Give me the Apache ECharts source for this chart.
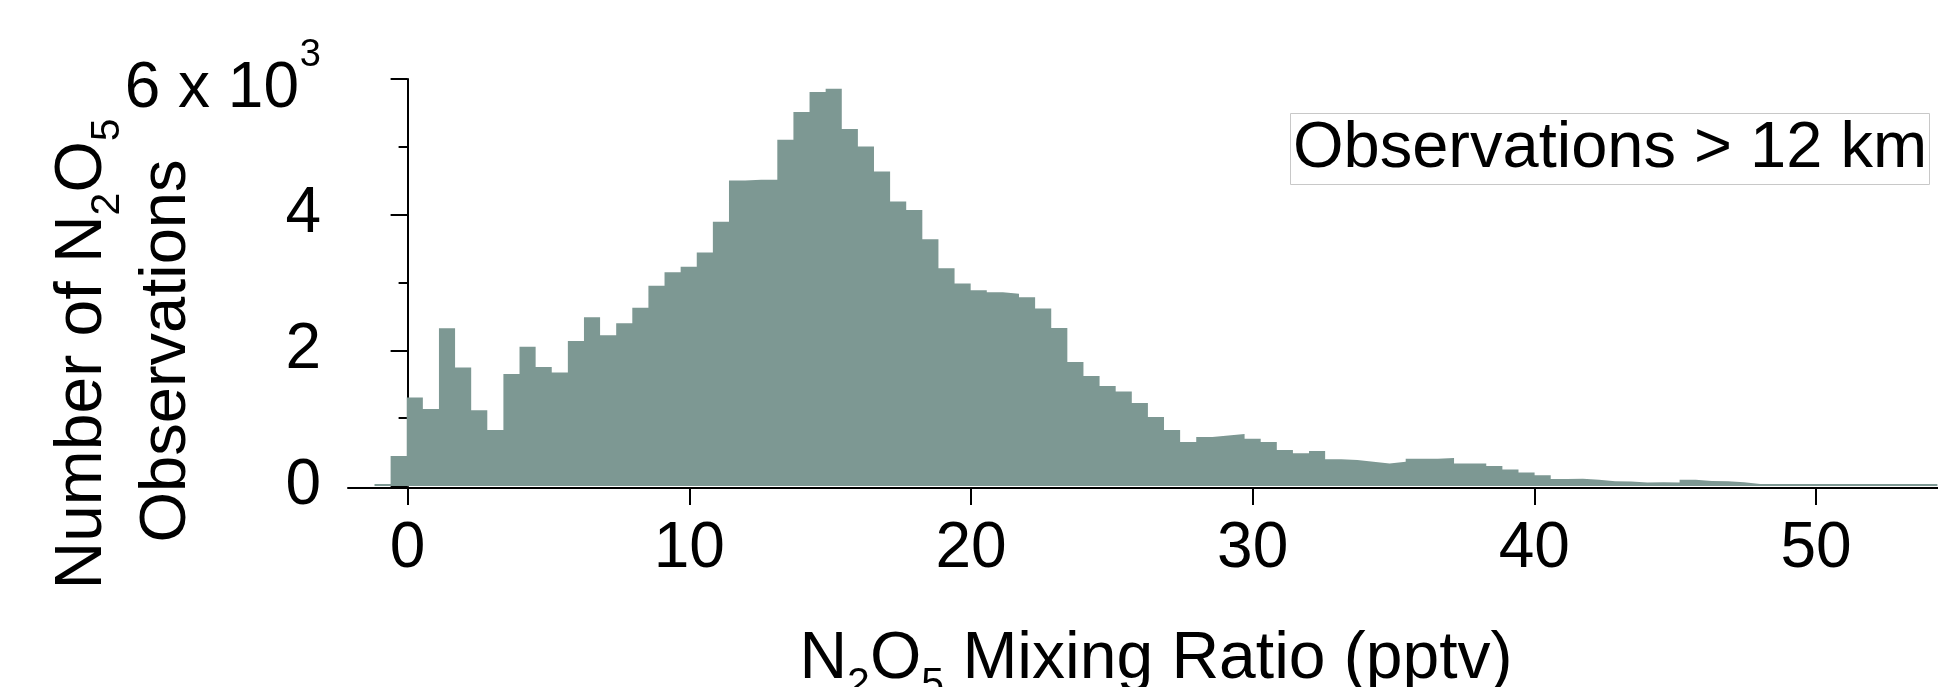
<!DOCTYPE html>
<html><head><meta charset="utf-8">
<script src="https://cdn.jsdelivr.net/npm/echarts@6/dist/echarts.min.js"></script>
<style>html,body{margin:0;padding:0;background:#fff;overflow:hidden}#c{width:1938px;height:687px}</style>
</head><body><div id="c"></div>
<script>
// ---- data ----
const binStart = -1.175;          // left edge of first bin (pptv)
const binWidth = 0.572;           // bin width (pptv)
const counts = [
  30, 443, 1303, 1136, 2326, 1746, 1116, 826, 1652, 2051,
  1756, 1672, 2139, 2488, 2223, 2400, 2626, 2951, 3152, 3231,
  3443, 3895, 4505, 4515, 4515, 5105, 5513, 5808, 5857, 5262,
  5006, 4638, 4195, 4067, 3639, 3211, 2985, 2887, 2857, 2833,
  2784, 2616, 2331, 1829, 1623, 1475, 1392, 1225, 1018, 826,
  649, 723, 743, 767, 698, 649, 531, 482, 516, 393,
  384, 359, 330, 359, 403, 403, 413, 330, 330, 295,
  245, 199, 157, 105, 108, 93, 70, 68, 50, 54,
  52, 93, 74, 69, 54, 30, 30, 30, 30, 30,
  30, 30, 30, 30, 30, 30, 30
];
const xTickValues = [0, 10, 20, 30, 40, 50];
const yTickValues = [0, 2000, 4000, 6000];
const legendText = 'Observations > 12 km';

// ---- chart ----
const FONT = '"Liberation Sans", Arial, Helvetica, sans-serif';
const FILL = '#7d9893';
const stepData = counts.map((c, i) => [binStart + i * binWidth, c]);
stepData.push([binStart + counts.length * binWidth, counts[counts.length - 1]]);

const titleRich = {
  m: {fontSize: 66, lineHeight: 66, fontFamily: FONT, fill: '#000'},
  s: {fontSize: 41, lineHeight: 10, padding: [50, 0, 0, 0], fontFamily: FONT, fill: '#000'}
};

const chart = echarts.init(document.getElementById('c'), null, {renderer: 'canvas'});
chart.setOption({
  animation: false,
  backgroundColor: '#ffffff',
  textStyle: {fontFamily: FONT, color: '#000'},
  title: {
    text: legendText,
    left: 1290, top: 113,
    padding: [2, 3, 2, 3],
    borderColor: '#c8c8c8', borderWidth: 1,
    textStyle: {fontSize: 65, lineHeight: 68, fontWeight: 'normal', color: '#000', fontFamily: FONT}
  },
  grid: {left: 348, right: 0, top: 79, bottom: 201, containLabel: false},
  xAxis: {
    type: 'value',
    min: -2.116, max: 54.33,
    offset: 2,
    splitLine: {show: false},
    axisLine: {show: true, onZero: false, lineStyle: {color: '#000', width: 2}},
    axisTick: {show: true, customValues: xTickValues, length: 17, lineStyle: {color: '#000', width: 2}},
    axisLabel: {customValues: xTickValues, fontSize: 64, lineHeight: 64, margin: 29, color: '#000', fontFamily: FONT}
  },
  yAxis: {
    type: 'value',
    min: 0, max: 6000, interval: 2000,
    splitLine: {show: false},
    axisLine: {show: true, lineStyle: {color: '#000', width: 2}},
    axisTick: {show: true, length: 17, lineStyle: {color: '#000', width: 2}},
    minorTick: {show: true, splitNumber: 2, length: 9, lineStyle: {color: '#000', width: 2}},
    minorSplitLine: {show: false},
    axisLabel: {
      fontSize: 64, lineHeight: 64, margin: 27, color: '#000', fontFamily: FONT,
      formatter: function (v) {
        if (v === yTickValues[yTickValues.length - 1]) {
          return '{s|3}\n{a|' + (v / 1000) + ' x 10}{g|\u2002}';
        }
        return String(v / 1000);
      },
      rich: {
        s: {fontSize: 38, lineHeight: 20, fontFamily: FONT, color: '#000'},
        a: {fontSize: 64, lineHeight: 47, fontFamily: FONT, color: '#000'},
        g: {fontSize: 44, lineHeight: 47, fontFamily: FONT, color: '#000'}
      }
    }
  },
  graphic: [
    {
      type: 'text', x: 1156, y: 660, silent: true,
      style: {
        text: '{m|N}{s|2}{m|O}{s|5}{m| Mixing Ratio (pptv)}',
        align: 'center', verticalAlign: 'middle', fill: '#000',
        rich: titleRich
      }
    },
    {
      type: 'text', x: 83, y: 354, rotation: Math.PI / 2, silent: true,
      style: {
        text: '{m|Number of N}{s|2}{m|O}{s|5}',
        align: 'center', verticalAlign: 'middle', fill: '#000',
        rich: titleRich
      }
    },
    {
      type: 'text', x: 167, y: 351, rotation: Math.PI / 2, silent: true,
      style: {
        text: 'Observations',
        fontSize: 65, fontFamily: FONT,
        align: 'center', verticalAlign: 'middle', fill: '#000'
      }
    }
  ],
  series: [{
    type: 'line',
    name: legendText,
    data: stepData,
    step: 'end',
    symbol: 'none',
    showSymbol: false,
    silent: true,
    clip: true,
    lineStyle: {width: 0, opacity: 0},
    areaStyle: {color: FILL, opacity: 1},
    z: 1
  }]
});
</script>
</body></html>
